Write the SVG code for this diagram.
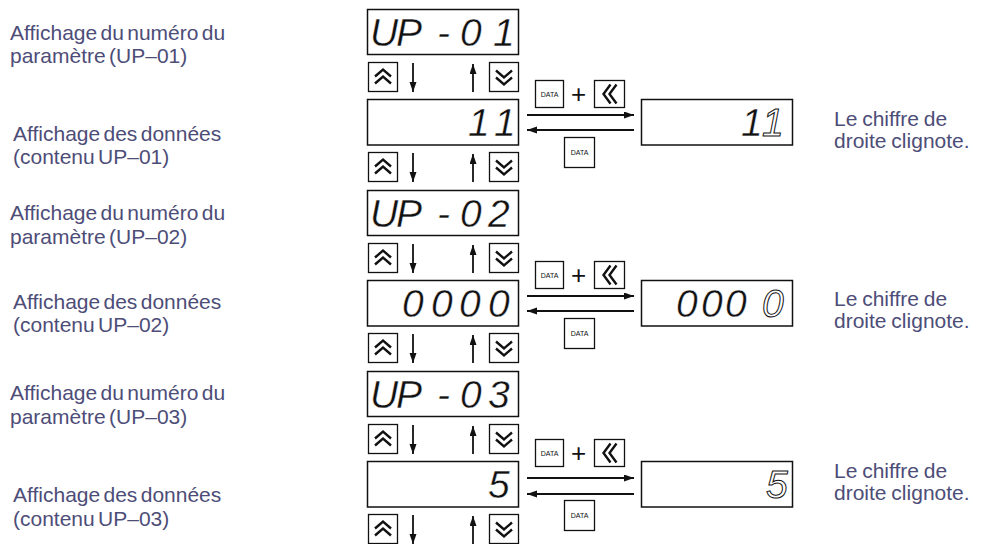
<svg xmlns="http://www.w3.org/2000/svg" xmlns:xlink="http://www.w3.org/1999/xlink" width="981" height="544" viewBox="0 0 981 544">
  <style>
    .lbl { font-family: "Liberation Sans", Arial, sans-serif; font-size: 21px; fill: #4d4d78; word-spacing: -2.5px; }
    .note { word-spacing: -1px; }
    .seg { font-family: "Liberation Sans", Arial, sans-serif; font-style: italic; font-size: 39px; fill: #111; stroke: #fff; stroke-width: 0.4; }
    .blink { fill: #fff; stroke: #111; stroke-width: 1; }
    .box { fill: #fff; stroke: #111; stroke-width: 1.5; }
    .key { fill: #fff; stroke: #111; stroke-width: 1.3; }
    .chev { fill: none; stroke: #111; stroke-width: 2.4; }
    .kt { font-family: "Liberation Sans", Arial, sans-serif; font-size: 7px; fill: #111; text-anchor: middle; }
    .plus { font-family: "Liberation Sans", Arial, sans-serif; font-size: 26px; fill: #111; text-anchor: middle; }
    .wire { stroke: #111; stroke-width: 1.8; fill: none; }
  </style>
  <defs>
    <marker id="head" markerUnits="userSpaceOnUse" markerWidth="11" markerHeight="8" refX="10" refY="3.5" orient="auto">
      <path d="M0,0 L10,3.5 L0,7 z" fill="#111"/>
    </marker>
    <!-- scroll keys: double chevron up / down -->
    <g id="keyUp">
      <rect class="key" x="0" y="0" width="29" height="29"/>
      <polyline class="chev" points="6.5,14 14.5,7 22.5,14"/>
      <polyline class="chev" points="6.5,21 14.5,14 22.5,21"/>
    </g>
    <g id="keyDown">
      <rect class="key" x="0" y="0" width="29" height="29"/>
      <polyline class="chev" points="6.5,8 14.5,15 22.5,8"/>
      <polyline class="chev" points="6.5,15 14.5,22 22.5,15"/>
    </g>
    <!-- shift key: double chevron left -->
    <g id="keyShift">
      <rect class="key" x="0" y="0" width="30" height="27"/>
      <polyline class="chev" points="16,4 9,13.5 16,23"/>
      <polyline class="chev" points="22,4 15,13.5 22,23"/>
    </g>
  </defs>

  <!-- left column captions -->
  <g id="captions">
    <text class="lbl" x="10" y="39.5">Affichage du numéro du</text>
    <text class="lbl" x="10" y="62.5">paramètre (UP–01)</text>
    <text class="lbl" x="13" y="140.5">Affichage des données</text>
    <text class="lbl" x="13" y="163.5">(contenu UP–01)</text>
    <text class="lbl" x="10" y="219.5">Affichage du numéro du</text>
    <text class="lbl" x="10" y="243.5">paramètre (UP–02)</text>
    <text class="lbl" x="13" y="308.5">Affichage des données</text>
    <text class="lbl" x="13" y="331.5">(contenu UP–02)</text>
    <text class="lbl" x="10" y="399.5">Affichage du numéro du</text>
    <text class="lbl" x="10" y="423.5">paramètre (UP–03)</text>
    <text class="lbl" x="13" y="501.5">Affichage des données</text>
    <text class="lbl" x="13" y="525.5">(contenu UP–03)</text>
  </g>

  <!-- right column captions -->
  <g id="notes">
    <text class="lbl note" x="834" y="125.5">Le chiffre de</text>
    <text class="lbl note" x="834" y="147.5">droite clignote.</text>
    <text class="lbl note" x="834" y="305.5">Le chiffre de</text>
    <text class="lbl note" x="834" y="327.5">droite clignote.</text>
    <text class="lbl note" x="834" y="477.5">Le chiffre de</text>
    <text class="lbl note" x="834" y="499.5">droite clignote.</text>
  </g>

  <!-- parameter number displays -->
  <g id="disp-up01">
    <rect class="box" x="367.5" y="9.5" width="151" height="45"/>
    <text class="seg" x="370 396 437 460 493" y="46">UP-01</text>
  </g>
  <g id="disp-up02">
    <rect class="box" x="367.5" y="190.5" width="151" height="45"/>
    <text class="seg" x="370 396 437 460 488" y="227">UP-02</text>
  </g>
  <g id="disp-up03">
    <rect class="box" x="367.5" y="371.5" width="151" height="45"/>
    <text class="seg" x="370 396 437 460 488" y="408">UP-03</text>
  </g>

  <!-- data displays -->
  <g id="data-up01">
    <rect class="box" x="367.5" y="99.5" width="151" height="45.5"/>
    <text class="seg" x="468 494" y="136">11</text>
  </g>
  <g id="data-up02">
    <rect class="box" x="367.5" y="280.5" width="151" height="45.5"/>
    <text class="seg" x="402 431 459 488" y="317">0000</text>
  </g>
  <g id="data-up03">
    <rect class="box" x="367.5" y="461.5" width="151" height="45.5"/>
    <text class="seg" x="488" y="498">5</text>
  </g>

  <!-- edit displays (rightmost digit blinking) -->
  <g id="edit-up01">
    <rect class="box" x="641.5" y="99.5" width="151" height="45.5"/>
    <text class="seg" x="741" y="136">1</text>
    <text class="seg blink" x="762" y="136">1</text>
  </g>
  <g id="edit-up02">
    <rect class="box" x="641.5" y="280.5" width="151" height="45.5"/>
    <text class="seg" x="676 701 725" y="317">000</text>
    <text class="seg blink" x="762" y="317">0</text>
  </g>
  <g id="edit-up03">
    <rect class="box" x="641.5" y="461.5" width="151" height="45.5"/>
    <text class="seg blink" x="766" y="498">5</text>
  </g>

  <!-- scroll keys -->
  <g id="keys-scroll">
    <use xlink:href="#keyUp" x="368.5" y="62.5"/>
    <use xlink:href="#keyDown" x="489.5" y="62.5"/>
    <use xlink:href="#keyUp" x="368.5" y="152.5"/>
    <use xlink:href="#keyDown" x="489.5" y="152.5"/>
    <use xlink:href="#keyUp" x="368.5" y="243.5"/>
    <use xlink:href="#keyDown" x="489.5" y="243.5"/>
    <use xlink:href="#keyUp" x="368.5" y="333.5"/>
    <use xlink:href="#keyDown" x="489.5" y="333.5"/>
    <use xlink:href="#keyUp" x="368.5" y="424.5"/>
    <use xlink:href="#keyDown" x="489.5" y="424.5"/>
    <use xlink:href="#keyUp" x="368.5" y="514.5"/>
    <use xlink:href="#keyDown" x="489.5" y="514.5"/>
  </g>

  <!-- DATA + shift key combos -->
  <g id="keys-edit-1">
    <rect class="key" x="535.5" y="80.5" width="28" height="27"/>
    <text class="kt" x="549.5" y="96.5">DATA</text>
    <text class="plus" x="578.5" y="103">+</text>
    <use xlink:href="#keyShift" x="594.5" y="80.5"/>
    <rect class="key" x="564.5" y="137.5" width="30" height="30"/>
    <text class="kt" x="579.5" y="155">DATA</text>
  </g>
  <g id="keys-edit-2">
    <rect class="key" x="535.5" y="261.5" width="28" height="27"/>
    <text class="kt" x="549.5" y="277.5">DATA</text>
    <text class="plus" x="578.5" y="284">+</text>
    <use xlink:href="#keyShift" x="594.5" y="261.5"/>
    <rect class="key" x="564.5" y="318.5" width="30" height="30"/>
    <text class="kt" x="579.5" y="336">DATA</text>
  </g>
  <g id="keys-edit-3">
    <rect class="key" x="535.5" y="439.5" width="28" height="27"/>
    <text class="kt" x="549.5" y="455.5">DATA</text>
    <text class="plus" x="578.5" y="462">+</text>
    <use xlink:href="#keyShift" x="594.5" y="439.5"/>
    <rect class="key" x="564.5" y="500.5" width="30" height="30"/>
    <text class="kt" x="579.5" y="518">DATA</text>
  </g>

  <!-- connectors -->
  <g id="connectors" class="wire">
    <!-- scroll arrows -->
    <line x1="413" y1="63" x2="413" y2="92" marker-end="url(#head)"/>
    <line x1="473" y1="92" x2="473" y2="64" marker-end="url(#head)"/>
    <line x1="413" y1="153" x2="413" y2="182" marker-end="url(#head)"/>
    <line x1="473" y1="182" x2="473" y2="154" marker-end="url(#head)"/>
    <line x1="413" y1="244" x2="413" y2="273" marker-end="url(#head)"/>
    <line x1="473" y1="273" x2="473" y2="245" marker-end="url(#head)"/>
    <line x1="413" y1="334" x2="413" y2="363" marker-end="url(#head)"/>
    <line x1="473" y1="363" x2="473" y2="335" marker-end="url(#head)"/>
    <line x1="413" y1="425" x2="413" y2="454" marker-end="url(#head)"/>
    <line x1="473" y1="454" x2="473" y2="426" marker-end="url(#head)"/>
    <line x1="413" y1="515" x2="413" y2="544" marker-end="url(#head)"/>
    <line x1="473" y1="544" x2="473" y2="516" marker-end="url(#head)"/>
    <!-- edit mode in / out -->
    <line x1="527" y1="115" x2="634" y2="115" marker-end="url(#head)"/>
    <line x1="634" y1="130" x2="527" y2="130" marker-end="url(#head)"/>
    <line x1="527" y1="296" x2="634" y2="296" marker-end="url(#head)"/>
    <line x1="634" y1="311" x2="527" y2="311" marker-end="url(#head)"/>
    <line x1="527" y1="478" x2="634" y2="478" marker-end="url(#head)"/>
    <line x1="634" y1="494" x2="527" y2="494" marker-end="url(#head)"/>
  </g>
</svg>
